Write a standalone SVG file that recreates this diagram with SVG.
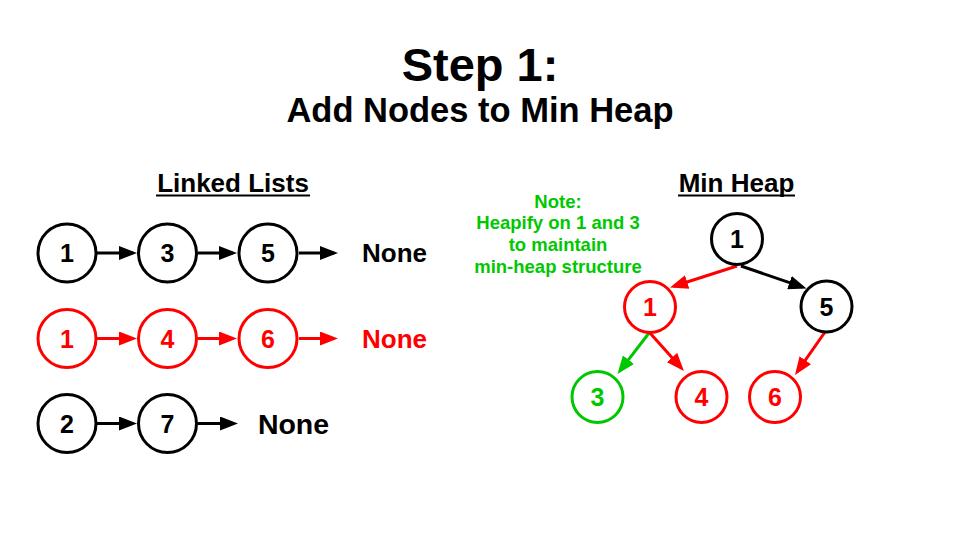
<svg xmlns="http://www.w3.org/2000/svg" width="960" height="540" viewBox="0 0 960 540">
<defs>
<style>
text{font-family:"Liberation Sans",Arial,sans-serif;font-weight:bold;text-anchor:middle}
.k{fill:#000}.r{fill:#ff0000}.g{fill:#00c800}
circle{fill:#fff;stroke-width:3}
.ck{stroke:#000}.cr{stroke:#ff0000}.cg{stroke:#00c800}
.num{font-size:25px}
.lk{stroke:#000;stroke-width:3;fill:none;marker-end:url(#ak)}
.lr{stroke:#ff0000;stroke-width:3;fill:none;marker-end:url(#ar)}
.lg{stroke:#00c800;stroke-width:3;fill:none;marker-end:url(#ag)}
</style>
<marker id="ak" markerUnits="userSpaceOnUse" viewBox="0 0 18 14" refX="14" refY="7" markerWidth="18" markerHeight="14" orient="auto"><path d="M0,0 L18,7 L0,14 z" fill="#000"/></marker>
<marker id="ar" markerUnits="userSpaceOnUse" viewBox="0 0 18 14" refX="14" refY="7" markerWidth="18" markerHeight="14" orient="auto"><path d="M0,0 L18,7 L0,14 z" fill="#ff0000"/></marker>
<marker id="ag" markerUnits="userSpaceOnUse" viewBox="0 0 18 14" refX="14" refY="7" markerWidth="18" markerHeight="14" orient="auto"><path d="M0,0 L18,7 L0,14 z" fill="#00c800"/></marker>
</defs>
<rect width="960" height="540" fill="#fff"/>

<g id="title">
<text x="480" y="81" class="k" font-size="47">Step 1:</text>
<text x="480" y="122" class="k" font-size="34.5">Add Nodes to Min Heap</text>
</g>

<g id="heading-lists">
<text x="233" y="192" class="k" font-size="26">Linked Lists</text>
<line x1="156" y1="195.5" x2="310" y2="195.5" stroke="#000" stroke-width="2"/>
</g>
<g id="heading-heap">
<text x="736.5" y="192" class="k" font-size="26">Min Heap</text>
<line x1="678" y1="195.5" x2="795" y2="195.5" stroke="#000" stroke-width="2"/>
</g>

<g id="note">
<text x="558" y="207.5" class="g" font-size="18.5">Note:</text>
<text x="558" y="229" class="g" font-size="18.5">Heapify on 1 and 3</text>
<text x="558" y="251" class="g" font-size="18.5">to maintain</text>
<text x="558" y="273" class="g" font-size="18.5">min-heap structure</text>
</g>

<g id="connectors">
<line class="lk" x1="97" y1="253" x2="133" y2="253"/>
<line class="lk" x1="198" y1="253" x2="233" y2="253"/>
<line class="lk" x1="299" y1="253" x2="334" y2="253"/>
<line class="lr" x1="97" y1="338.5" x2="133" y2="338.5"/>
<line class="lr" x1="198" y1="338.5" x2="233" y2="338.5"/>
<line class="lr" x1="299" y1="338.5" x2="334" y2="338.5"/>
<line class="lk" x1="97" y1="423.5" x2="133" y2="423.5"/>
<line class="lk" x1="198" y1="423.5" x2="234" y2="423.5"/>
<line class="lr" x1="737" y1="266" x2="673.8" y2="286.3"/>
<line class="lk" x1="741" y1="266" x2="802.7" y2="287.2"/>
<line class="lg" x1="649" y1="333" x2="619.9" y2="370.8"/>
<line class="lr" x1="650" y1="333" x2="681.3" y2="368"/>
<line class="lr" x1="825" y1="332" x2="797.3" y2="371.7"/>
</g>

<g id="l1-1"><circle class="ck" cx="67" cy="253" r="29"/><text class="k num" x="67" y="262">1</text></g>
<g id="l1-3"><circle class="ck" cx="167.5" cy="253" r="29"/><text class="k num" x="167.5" y="262">3</text></g>
<g id="l1-5"><circle class="ck" cx="268" cy="253" r="29"/><text class="k num" x="268" y="262">5</text></g>
<g id="l1-none"><text class="k" x="394.5" y="262" font-size="26">None</text></g>

<g id="l2-1"><circle class="cr" cx="67" cy="338.5" r="29"/><text class="r num" x="67" y="347.5">1</text></g>
<g id="l2-4"><circle class="cr" cx="167.5" cy="338.5" r="29"/><text class="r num" x="167.5" y="347.5">4</text></g>
<g id="l2-6"><circle class="cr" cx="268" cy="338.5" r="29"/><text class="r num" x="268" y="347.5">6</text></g>
<g id="l2-none"><text class="r" x="394.5" y="347.5" font-size="26">None</text></g>

<g id="l3-2"><circle class="ck" cx="67" cy="423.5" r="29"/><text class="k num" x="67" y="432.5">2</text></g>
<g id="l3-7"><circle class="ck" cx="167.5" cy="423.5" r="29"/><text class="k num" x="167.5" y="432.5">7</text></g>
<g id="l3-none"><text class="k" x="293.5" y="433.5" font-size="28.5">None</text></g>

<g id="h-root"><circle class="ck" cx="737" cy="239" r="25.5"/><text class="k num" x="737" y="248">1</text></g>
<g id="h-1"><circle class="cr" cx="650" cy="307" r="25.5"/><text class="r num" x="650" y="316">1</text></g>
<g id="h-5"><circle class="ck" cx="826.5" cy="306.5" r="25.5"/><text class="k num" x="826.5" y="315.5">5</text></g>
<g id="h-3"><circle class="cg" cx="597.5" cy="397" r="25.5"/><text class="g num" x="597.5" y="406">3</text></g>
<g id="h-4"><circle class="cr" cx="701.5" cy="397" r="25.5"/><text class="r num" x="701.5" y="406">4</text></g>
<g id="h-6"><circle class="cr" cx="775" cy="397" r="25.5"/><text class="r num" x="775" y="406">6</text></g>
</svg>
